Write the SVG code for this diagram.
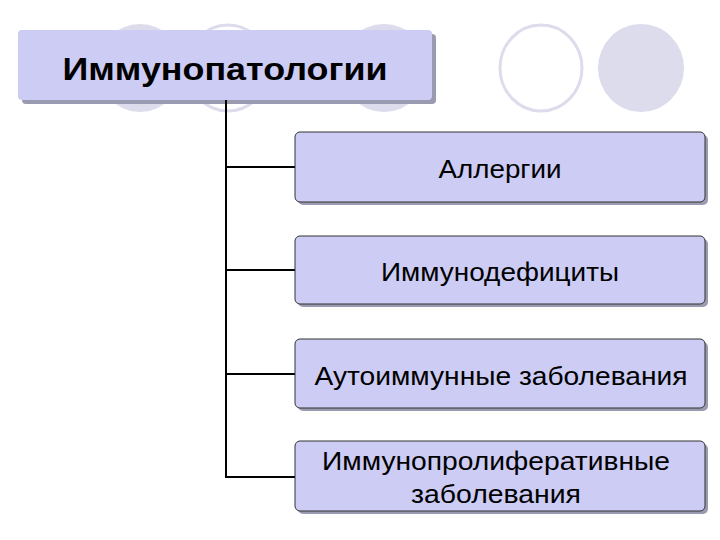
<svg xmlns="http://www.w3.org/2000/svg" width="720" height="540" viewBox="0 0 720 540">
<style>
.dec{fill:#dcdcec}
.ring{fill:#fff;stroke:#dcdcec;stroke-width:3}
.box{fill:#ccccf5;stroke:#333;stroke-width:1}
.sh{fill:#9a9ab0}
.t{font-family:"Liberation Sans",Arial,sans-serif;font-size:25px;fill:#000;text-anchor:middle}
.c{stroke:#000;stroke-width:2;fill:none}
</style>
<rect width="720" height="540" fill="#fff"/>
<ellipse class="dec" cx="140" cy="68" rx="42" ry="44"/>
<ellipse class="ring" cx="228" cy="68" rx="41" ry="43"/>
<ellipse class="dec" cx="384" cy="68" rx="43" ry="44"/>
<ellipse class="ring" cx="541" cy="68" rx="41" ry="43"/>
<ellipse class="dec" cx="641" cy="68" rx="43" ry="44"/>
<g id="title">
<rect class="sh" x="22" y="34" width="414" height="70" rx="4"/>
<rect x="18" y="30" width="414" height="70" rx="4" fill="#ccccf5"/>
<text x="225" y="80" class="t" style="font-size:32px;font-weight:bold" textLength="325" lengthAdjust="spacingAndGlyphs">Иммунопатологии</text>
</g>
<g id="connectors">
<path class="c" d="M226 100V478M226 167H295M226 270H295M226 374H295M226 477H295"/>
</g>
<g id="n1"><rect class="sh" x="298" y="135" width="410" height="70" rx="5"/><rect class="box" x="295" y="132" width="410" height="70" rx="5"/><text class="t" x="500" y="178" textLength="123" lengthAdjust="spacingAndGlyphs">Аллергии</text></g>
<g id="n2"><rect class="sh" x="298" y="239" width="410" height="68" rx="5"/><rect class="box" x="295" y="236" width="410" height="68" rx="5"/><text class="t" x="500" y="281" textLength="238" lengthAdjust="spacingAndGlyphs">Иммунодефициты</text></g>
<g id="n3"><rect class="sh" x="298" y="342" width="410" height="69" rx="5"/><rect class="box" x="295" y="339" width="410" height="69" rx="5"/><text class="t" x="501" y="385" textLength="373" lengthAdjust="spacingAndGlyphs">Аутоиммунные заболевания</text></g>
<g id="n4"><rect class="sh" x="298" y="444" width="410" height="70" rx="5"/><rect class="box" x="295" y="441" width="410" height="70" rx="5"/><text class="t" x="496" y="470" textLength="348" lengthAdjust="spacingAndGlyphs">Иммунопролиферативные</text><text class="t" x="496" y="503" textLength="170" lengthAdjust="spacingAndGlyphs">заболевания</text></g>
</svg>
